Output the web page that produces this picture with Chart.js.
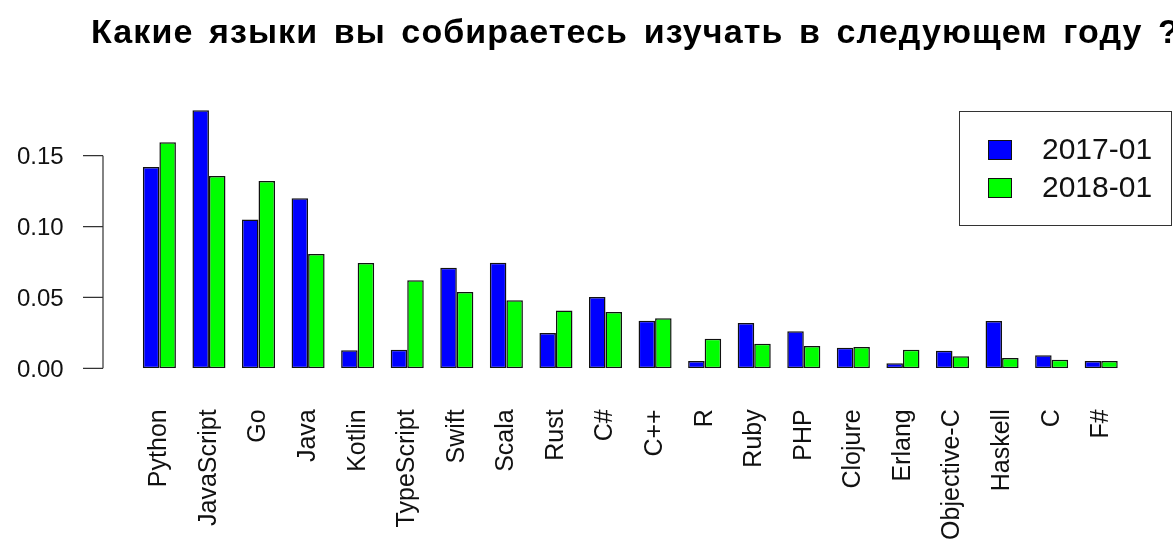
<!DOCTYPE html>
<html>
<head>
<meta charset="utf-8">
<script src="https://cdn.jsdelivr.net/npm/chart.js@4"></script>
<style>
  body { margin: 0; background: #fff; }
  #wrap { position: relative; width: 1173px; height: 539px; overflow: hidden; }
  #title {
    position: absolute; left: 91px; top: 13.5px; white-space: nowrap;
    letter-spacing: 1.1px; word-spacing: 5px;
    font: bold 34px "Liberation Sans", Arial, sans-serif; line-height: 34px; color: #000;
  }
  #legend {
    position: absolute; left: 959px; top: 111px; width: 213px; height: 115px;
    border: 1px solid #333; box-sizing: border-box; white-space: nowrap;
    font: 30px "Liberation Sans", Arial, sans-serif; color: #111;
  }
  .item { position: absolute; left: 28px; height: 38px; line-height: 38px; }
  .sw { position: absolute; left: 0; top: 9px; width: 22px; height: 18px; border: 1px solid #111; }
  .lbl { position: absolute; left: 54px; top: -1px; }
</style>
</head>
<body>
<div id="wrap">
  <canvas id="chart" width="1173" height="539"></canvas>
  <div id="title">Какие языки вы собираетесь изучать в следующем году ?</div>
  <div id="legend"></div>
</div>
<script>
'use strict';

const languages = ['Python', 'JavaScript', 'Go', 'Java', 'Kotlin', 'TypeScript', 'Swift', 'Scala', 'Rust', 'C#',
  'C++', 'R', 'Ruby', 'PHP', 'Clojure', 'Erlang', 'Objective-C', 'Haskell', 'C', 'F#'];
const seriesNames = ['2017-01', '2018-01'];
const share2017 = [0.142, 0.182, 0.105, 0.120, 0.0127, 0.0131, 0.071, 0.0745, 0.0249, 0.0503,
  0.0336, 0.0052, 0.032, 0.0261, 0.0145, 0.0035, 0.0124, 0.0334, 0.0092, 0.0052];
const share2018 = [0.1595, 0.1357, 0.1322, 0.0807, 0.0743, 0.0621, 0.0538, 0.048, 0.0407, 0.0397,
  0.0353, 0.0209, 0.0174, 0.0157, 0.015, 0.0131, 0.0085, 0.0073, 0.0061, 0.0052];
const yTicks = [0, 0.05, 0.10, 0.15];

const colors = ['#0000ff', '#00ff00'];
const font = 'Liberation Sans, Arial, sans-serif';

// legend box like R's legend()
const legendEl = document.getElementById('legend');
legendEl.innerHTML = seriesNames
  .map((name, i) => `<div class="item" style="top:${19 + i * 38}px">
      <div class="sw" style="background:${colors[i]}"></div><span class="lbl">${name}</span></div>`)
  .join('');

// R style y axis: line only from first to last tick, detached from plot
const rAxis = {
  id: 'rAxis',
  afterDraw(chart) {
    const { ctx } = chart;
    const y = chart.scales.y;
    const x0 = 103;
    ctx.save();
    ctx.strokeStyle = '#333';
    ctx.lineWidth = 1.2;
    ctx.beginPath();
    ctx.moveTo(x0, y.getPixelForValue(yTicks[0]));
    ctx.lineTo(x0, y.getPixelForValue(yTicks[yTicks.length - 1]));
    yTicks.forEach((v) => {
      const py = y.getPixelForValue(v);
      ctx.moveTo(x0, py);
      ctx.lineTo(x0 - 20, py);
    });
    ctx.stroke();
    ctx.restore();
  },
};

const datasets = [share2017, share2018].map((d, i) => ({
  label: seriesNames[i],
  data: d,
  backgroundColor: colors[i],
  borderColor: '#111',
  borderWidth: 1.5,
  borderSkipped: false,
  barPercentage: 1,
  categoryPercentage: 2 / 3,
}));

new Chart(document.getElementById('chart'), {
  type: 'bar',
  data: { labels: languages, datasets },
  options: {
    responsive: false,
    animation: false,
    layout: { padding: { top: 99, right: 31.6, left: 0, bottom: 0 } },
    plugins: {
      legend: { display: false },
      tooltip: { enabled: false },
    },
    scales: {
      x: {
        grid: { display: false, drawTicks: false },
        border: { display: false },
        ticks: {
          autoSkip: false,
          minRotation: 90,
          maxRotation: 90,
          padding: 41,
          color: '#111',
          font: { family: font, size: 25 },
        },
        afterFit: (s) => { s.height = 170.7; },
      },
      y: {
        min: 0,
        max: 0.19,
        grid: { display: false, drawTicks: false },
        border: { display: false },
        afterBuildTicks: (s) => { s.ticks = yTicks.map((v) => ({ value: v })); },
        ticks: {
          padding: 71,
          labelOffset: 2,
          color: '#111',
          font: { family: font, size: 24 },
          callback: (v) => Number(v).toFixed(2),
        },
        afterFit: (s) => { s.width = 134.6; },
      },
    },
  },
  plugins: [rAxis],
});
</script>
</body>
</html>
